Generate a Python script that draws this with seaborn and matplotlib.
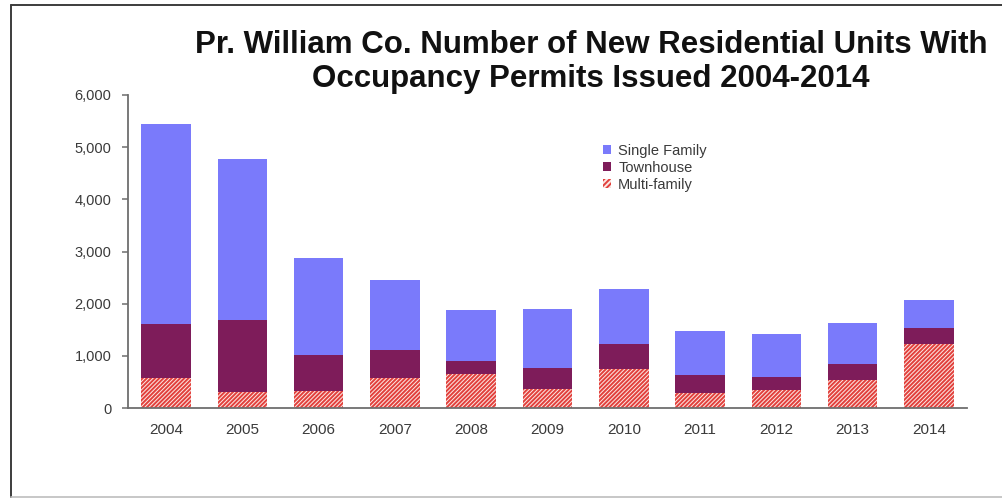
import matplotlib
matplotlib.use("Agg")
import matplotlib.pyplot as plt
from matplotlib.patches import Patch
from matplotlib.lines import Line2D
from matplotlib.ticker import FuncFormatter
import numpy as np
import pandas as pd
import seaborn as sns

# Occupancy permits issued per year, by housing type
years = ["2004", "2005", "2006", "2007", "2008", "2009",
         "2010", "2011", "2012", "2013", "2014"]
multi_family = [580, 310, 320, 580, 650, 370, 740, 295, 340, 530, 1220]
townhouse = [1030, 1370, 700, 540, 250, 400, 490, 345, 245, 320, 320]
single_family = [3840, 3090, 1860, 1330, 980, 1130, 1050, 840, 830, 780, 525]

title = "Pr. William Co. Number of New Residential Units With\nOccupancy Permits Issued 2004-2014"
series_names = ["Single Family", "Townhouse", "Multi-family"]

c_single = "#7A7AFB"
c_town = "#7E1C5A"
c_multi = "#E2403C"
c_multi_bg = "#FBE8E4"

sns.set_theme(style="white")
plt.rcParams["font.family"] = ["Liberation Sans", "DejaVu Sans"]
plt.rcParams["hatch.linewidth"] = 1.4

df = pd.DataFrame({
    "year": years,
    "multi": multi_family,
    "town": townhouse,
    "single": single_family,
})
df["lvl_multi"] = df["multi"]
df["lvl_town"] = df["multi"] + df["town"]
df["lvl_total"] = df["lvl_town"] + df["single"]

fig = plt.figure(figsize=(10.02, 5.01), dpi=100)
fig.patch.set_facecolor("white")
ax = fig.add_axes([128 / 1002, 1 - 408 / 501, (967 - 128) / 1002, (408 - 95) / 501])

bw = 0.65
# stacked bars drawn as cumulative layers, tallest first
sns.barplot(data=df, x="year", y="lvl_total", color=c_single, saturation=1,
            width=bw, linewidth=0, ax=ax)
sns.barplot(data=df, x="year", y="lvl_town", color=c_town, saturation=1,
            width=bw, linewidth=0, ax=ax)
sns.barplot(data=df, x="year", y="lvl_multi", color=c_multi_bg, saturation=1,
            width=bw, linewidth=0, edgecolor=c_multi, hatch="////////", ax=ax)

ax.set_xlim(-0.5, len(years) - 0.5)
ax.set_ylim(0, 6000)
ax.set_yticks(np.arange(0, 6001, 1000))
ax.yaxis.set_major_formatter(FuncFormatter(lambda v, p: f"{int(v):,}"))
ax.set_xlabel("")
ax.set_ylabel("")

for side in ("top", "right"):
    ax.spines[side].set_visible(False)
for side in ("left", "bottom"):
    ax.spines[side].set_color("#6E6E6E")
    ax.spines[side].set_linewidth(1.3)

ax.tick_params(axis="y", direction="out", length=4, width=1.1, color="#6E6E6E",
               labelsize=10.5, labelcolor="#3A3A3A", pad=8, left=True)
ax.tick_params(axis="x", length=0, labelsize=11, labelcolor="#3A3A3A", pad=11)

fig.text(591 / 1002, 1 - 62 / 501, title, ha="center", va="center",
         fontsize=22.5, fontweight="bold", color="#111111", linespacing=1.2)

handles = [
    Patch(facecolor=c_single, edgecolor="none", label=series_names[0]),
    Patch(facecolor=c_town, edgecolor="none", label=series_names[1]),
    Patch(facecolor=c_multi_bg, edgecolor=c_multi, hatch="//////", linewidth=0,
          label=series_names[2]),
]
leg = fig.legend(handles=handles, loc="upper left",
                 bbox_to_anchor=(597 / 1002, 1 - 138 / 501),
                 frameon=False, fontsize=10.5, handlelength=0.55, handleheight=0.55,
                 handletextpad=0.5, labelspacing=0.2, borderaxespad=0)
for t in leg.get_texts():
    t.set_color("#3A3A3A")

# outer chart frame
fig.add_artist(Line2D([11 / 1002, 11 / 1002], [1 - 497 / 501, 1 - 5 / 501],
                      transform=fig.transFigure, color="#3C3C3C", lw=1.4))
fig.add_artist(Line2D([11 / 1002, 1.0], [1 - 5 / 501, 1 - 5 / 501],
                      transform=fig.transFigure, color="#3C3C3C", lw=1.4))
fig.add_artist(Line2D([11 / 1002, 1.0], [1 - 497 / 501, 1 - 497 / 501],
                      transform=fig.transFigure, color="#BDBDBD", lw=1.2))

fig.savefig("out.png", dpi=100, facecolor="white")
